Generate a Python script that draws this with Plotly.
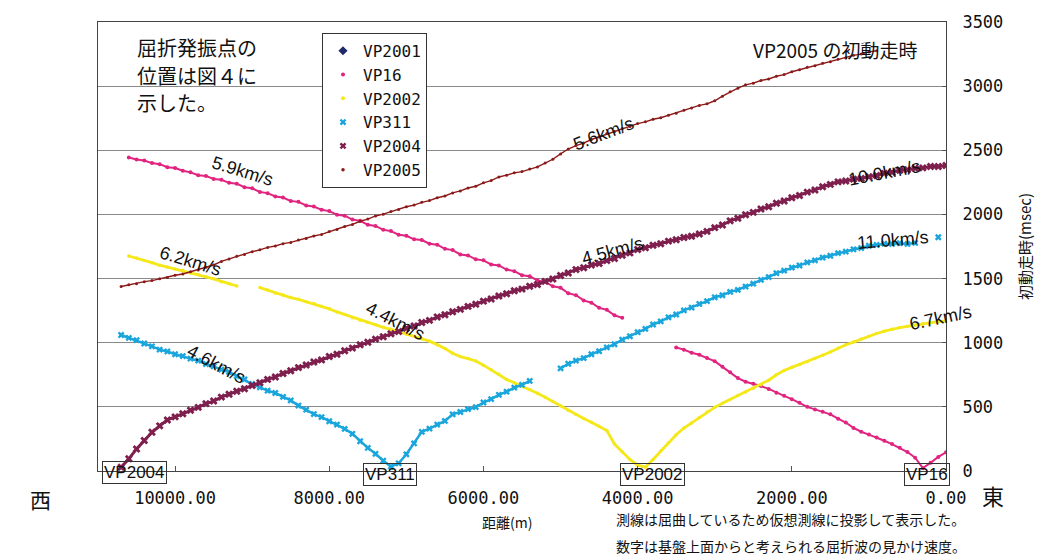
import plotly.graph_objects as go

N = None

# receiver positions along the virtual line (m)
stations = [11000, 10900, 10800, 10700, 10600, 10500, 10400, 10300, 10200, 10100,
            10000, 9900, 9800, 9700, 9600, 9500, 9400, 9300, 9200, 9100,
            9000, 8900, 8800, 8700, 8600, 8500, 8400, 8300, 8200, 8100,
            8000, 7900, 7800, 7700, 7600, 7500, 7400, 7300, 7200, 7100,
            7000, 6900, 6800, 6700, 6600, 6500, 6400, 6300, 6200, 6100,
            6000, 5900, 5800, 5700, 5600, 5500, 5400, 5300, 5200, 5100,
            5000, 4900, 4800, 4700, 4600, 4500, 4400, 4300, 4200, 4100,
            4000, 3900, 3800, 3700, 3600, 3500, 3400, 3300, 3200, 3100,
            3000, 2900, 2800, 2700, 2600, 2500, 2400, 2300, 2200, 2100,
            2000, 1900, 1800, 1700, 1600, 1500, 1400, 1300, 1200, 1100,
            1000, 900, 800, 700, 600, 500, 400, 300, 200, 100,
            0]

# first-arrival times (msec); None = no pick
vp16 = [N, N, N, N,
        2444, 2428, 2420, 2400, 2392, 2368, 2362, 2340, 2328, 2306,
        2300, 2276, 2270, 2246, 2240, 2212, 2204, 2174, 2166, 2140,
        2132, 2104, 2098, 2070, 2062, 2036, 2026, 1998, 1990, 1960,
        1950, 1920, 1910, 1880, 1870, 1842, 1834, 1806, 1800, 1772,
        1764, 1732, 1722, 1688, 1680, 1650, 1642, 1610, 1602, 1570,
        1558, 1526, 1518, 1486, 1476, 1440, 1428, 1386, 1370, 1330,
        1312, 1272, 1256, 1214, 1194,
        N, N, N, N, N, N,
        962, 946, 922, 906, 880, 856, 812, 770, 724, 696,
        680, 662, 640, 610, 586, 560, 532, 500, 480, 462,
        442, 408, 378, 336, 306, 284, 262, 236, 210, 182,
        148, 104, 22, 64, 110, 146]

vp2002 = [N, N, N, N,
          1676, 1660, 1640, 1624, 1604, 1590, 1574, 1562, 1546, 1532,
          1514, 1498, 1476, 1460, 1442,
          N, N,
          1430, 1410, 1386, 1372, 1352, 1338, 1320, 1306, 1284, 1264,
          1240, 1220, 1195, 1176, 1158, 1140, 1120, 1104, 1086, 1068,
          1050, 1030, 1012, 985, 955, 918, 892, 876, 858, 825,
          790, 755, 714, 688, 662, 636, 606, 575, 542, 508,
          472, 440, 410, 380, 348, 315, 210, 150, 90, 45,
          30, 90, 155, 220, 282, 335, 375, 418, 460, 496,
          528, 558, 588, 616, 646, 672, 708, 750, 784, 808,
          830, 852, 876, 902, 928, 956, 984, 1005, 1028, 1050,
          1072, 1090, 1105, 1118, 1128, 1138, 1148, 1157, 1164, 1171]

vp311 = [N, N, N,
         1060, 1038, 1020, 994, 972, 946, 932, 910, 896, 876,
         860, 834, 816, 790, 772, 740, 714, 678, 652, 626,
         608, 578, 550, 510, 478, 444, 420, 388, 362, 328,
         290, 232, 180, 134, 80, 35, 60, 130, 215, 305,
         330, 362, 390, 442, 460, 482, 498, 534, 560, 594,
         618, 650, 672, 702,
         N, N, N,
         800, 836, 860, 880, 910, 934, 964, 988, 1024, 1050,
         1082, 1108, 1142, 1166, 1198, 1220, 1252, 1274, 1302, 1324,
         1354, 1370, 1396, 1412, 1438, 1460, 1490, 1512, 1542, 1562,
         1586, 1602, 1626, 1642, 1664, 1678, 1698, 1710, 1728, 1738,
         1756, 1762, 1772, 1770, 1776, 1770, 1778,
         N, N, 1822, N]

vp2004 = [N, N, N,
          30, 95, 172, 238, 302, 352, 398, 422, 446, 474,
          496, 525, 545, 576, 598, 622, 641, 667, 688, 714,
          733, 760, 781, 806, 826, 850, 866, 892, 910, 937,
          958, 984, 1003, 1028, 1046, 1070, 1088, 1112, 1130, 1157,
          1174, 1200, 1218, 1242, 1260, 1283, 1300, 1324, 1341, 1364,
          1382, 1405, 1418, 1440, 1454, 1478, 1496, 1524, 1544, 1570,
          1584, 1605, 1618, 1640, 1656, 1682, 1700, 1726, 1740, 1760,
          1772, 1792, 1803, 1820, 1830, 1848, 1868, 1897, 1918, 1950,
          1970, 1997, 2016, 2042, 2060, 2087, 2105, 2130, 2148, 2174,
          2191, 2216, 2234, 2254, 2261, 2275, 2281, 2294, 2303, 2320,
          2328, 2344, 2348, 2360, 2363, 2373, 2374, 2381]

vp2005 = [N, N, N,
          1438, 1452, 1460, 1476, 1484, 1499, 1508, 1526, 1536, 1554,
          1566, 1588, 1606, 1634, 1653, 1674, 1688, 1710, 1724, 1743,
          1754, 1772, 1782, 1800, 1812, 1832, 1844, 1866, 1882, 1906,
          1922, 1947, 1964, 1988, 2002, 2022, 2038, 2060, 2073, 2094,
          2108, 2130, 2144, 2168, 2183, 2206, 2220, 2246, 2264, 2292,
          2306, 2324, 2334, 2354, 2370, 2400, 2430, 2472, 2510, 2537,
          2556, 2584, 2604, 2630, 2646, 2670, 2686, 2708, 2722, 2742,
          2754, 2774, 2788, 2812, 2830, 2850, 2862, 2886, 2922, 2956,
          2984, 3010, 3023, 3044, 3056, 3077, 3090, 3112, 3128, 3147,
          3158, 3178, 3190, 3210, 3222, 3240, 3250, 3267, 3276,
          N, N, N, N, N, N, N, N, N]

for s in (vp16, vp2002, vp311, vp2004, vp2005):
    assert len(s) == len(stations), len(s)

x_ticks = [10000, 8000, 6000, 4000, 2000, 0]
y_ticks = [0, 500, 1000, 1500, 2000, 2500, 3000, 3500]

series = [
    # name, values, color, symbol, marker size, line width, legend size
    ("VP2001", None, "#1f2a6b", "diamond", 6, 0, 7),
    ("VP16", vp16, "#e0247f", "circle", 4, 2, 4),
    ("VP2002", vp2002, "#f5e81a", "circle", 3.5, 2.8, 4),
    ("VP311", vp311, "#1aa6dc", "x", 6, 2.5, 6),
    ("VP2004", vp2004, "#7e1f4e", "x", 7, 3, 6),
    ("VP2005", vp2005, "#8c1a1a", "circle", 3, 1.4, 3.5),
]

fig = go.Figure()
for name, vals, col, sym, ms, lw, lgs in series:
    if vals is not None:
        fig.add_trace(go.Scatter(
            x=stations, y=vals, mode="lines+markers", name=name,
            line=dict(color=col, width=lw),
            marker=dict(symbol=sym, size=ms, color=col, line=dict(width=0)),
            showlegend=False, hoverinfo="skip"))
    fig.add_trace(go.Scatter(
        x=[None], y=[None], mode="markers", name=name,
        marker=dict(symbol=sym, size=lgs, color=col, line=dict(width=0)),
        showlegend=True))

L, R, T, B = 98, 946, 14, 471


def px(x):
    return (x - L) / (R - L)


def py(y):
    return (B - y) / (B - T)


ann = []
cjk = "Noto Sans CJK JP"
for txt, yy in [("屈折発振点の", 40), ("位置は図４に", 68), ("示した。", 96)]:
    ann.append(dict(text=txt, x=px(135), y=py(yy), xanchor="left", yanchor="middle",
                    font=dict(family=cjk, size=20, color="#111")))
ann.append(dict(text="VP2005 の初動走時", x=px(919), y=py(42), xanchor="right", yanchor="middle",
                font=dict(family=cjk, size=19, color="#111")))

vel_labels = [("5.9km/s", 242, 166, 17), ("6.2km/s", 190, 257, 17), ("4.4km/s", 395, 318, 27),
              ("4.6km/s", 216, 362, 28), ("5.6km/s", 603, 128, -21), ("4.5km/s", 612, 247, -15),
              ("10.0km/s", 884, 168, -11), ("11.0km/s", 893, 236, -5), ("6.7km/s", 940, 315, -12)]
for txt, xx, yy, ang in vel_labels:
    ann.append(dict(text=txt, x=px(xx), y=py(yy), xanchor="center", yanchor="middle",
                    textangle=ang, font=dict(family="Liberation Sans", size=18, color="#111")))

for txt, xx, yy in [("VP2004", 134, 473), ("VP311", 390, 475), ("VP2002", 652, 475), ("VP16", 927, 475)]:
    ann.append(dict(text=txt, x=px(xx), y=py(yy), xanchor="center", yanchor="middle",
                    bordercolor="#333", borderwidth=1, borderpad=1, bgcolor="rgba(255,255,255,0)",
                    font=dict(family="Liberation Sans", size=17, color="#111")))

ann.append(dict(text="西", x=px(40), y=py(500), xanchor="center", yanchor="middle",
                font=dict(family=cjk, size=21, color="#111")))
ann.append(dict(text="東", x=px(993), y=py(495), xanchor="center", yanchor="middle",
                font=dict(family=cjk, size=22, color="#111")))
ann.append(dict(text="距離(m)", x=px(507), y=py(523), xanchor="center", yanchor="middle",
                font=dict(family=cjk, size=14, color="#111")))
ann.append(dict(text="測線は屈曲しているため仮想測線に投影して表示した。", x=px(614), y=py(520),
                xanchor="left", yanchor="middle", font=dict(family=cjk, size=14, color="#111")))
ann.append(dict(text="数字は基盤上面からと考えられる屈折波の見かけ速度。", x=px(614), y=py(547),
                xanchor="left", yanchor="middle", font=dict(family=cjk, size=14, color="#111")))

for a in ann:
    a.update(xref="paper", yref="paper", showarrow=False)

mono = "DejaVu Sans Mono"
fig.update_layout(
    width=1059, height=557,
    margin=dict(l=L, r=1059 - R, t=T, b=557 - B),
    paper_bgcolor="white", plot_bgcolor="white",
    showlegend=True,
    legend=dict(x=px(322), y=py(25), xanchor="left", yanchor="top",
                bgcolor="white", bordercolor="#333", borderwidth=1,
                font=dict(family=mono, size=16, color="#111"),
                itemwidth=30, tracegroupgap=0),
    xaxis=dict(range=[11000, 0], tickvals=x_ticks, tickformat=".2f",
               ticks="inside", ticklen=5, tickcolor="#555",
               showline=True, linecolor="#444", linewidth=1, mirror=True,
               showgrid=False, zeroline=False, ticklabelstandoff=12,
               tickfont=dict(family=mono, size=17, color="#111")),
    yaxis=dict(range=[0, 3500], tickvals=y_ticks, side="right",
               ticks="inside", ticklen=4, tickcolor="#555",
               showline=True, linecolor="#444", linewidth=1, mirror=True,
               showgrid=True, gridcolor="#8a8a8a", gridwidth=1, zeroline=False,
               tickfont=dict(family=mono, size=17, color="#111"),
               ticklabelstandoff=12,
               title=dict(text="初動走時(msec)", standoff=18,
                          font=dict(family=cjk, size=15, color="#111"))),
    annotations=ann,
)

fig.write_html("out.html")
